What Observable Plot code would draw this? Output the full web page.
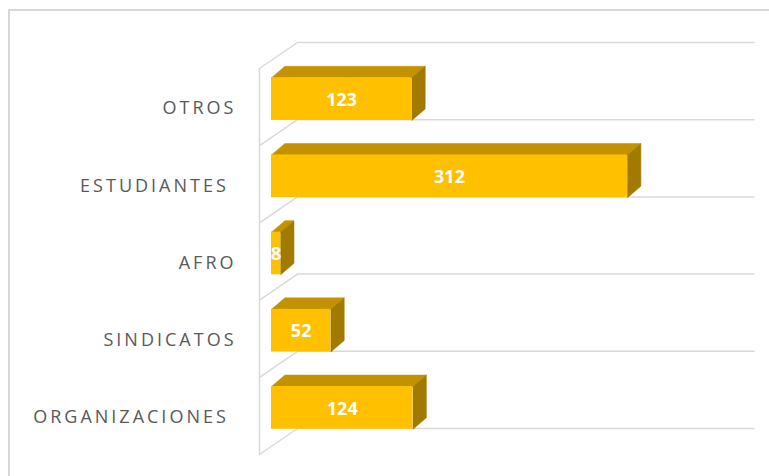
<!DOCTYPE html>
<html>
<head>
<meta charset="utf-8">
<script src="https://cdn.jsdelivr.net/npm/d3@7"></script>
<script src="https://cdn.jsdelivr.net/npm/@observablehq/plot@0.6"></script>
<style>
  html, body { margin: 0; padding: 0; background: #fff; }
  #chart { width: 769px; height: 476px; overflow: hidden; }
</style>
</head>
<body>
<div id="chart"></div>
<script>
// ---- data (bottom row first) ----
const categories = ["ORGANIZACIONES", "SINDICATOS", "AFRO", "ESTUDIANTES", "OTROS"];
const tickLabels = ["ORGANIZACIONES\u00a0", "SINDICATOS", "AFRO", "ESTUDIANTES\u00a0", "OTROS"];
const values = [124, 52, 8, 312, 123];
const xMax = 400;

// ---- 3D projection constants (data units) ----
const PX = 1.141;           // px per value unit
const ROW = 77.2;           // px per category row
const WX = 38 / PX, WY = 26 / ROW;       // wall depth
const FX = 12 / PX, FY = 8 / ROW;        // bar front-face depth offset
const BX = 13.4 / PX, BY = 11.5 / ROW;   // bar depth
const H = 0.2765;                        // half bar height (rows)

const bars = categories.map((c, i) => ({c, i, v: values[i], label: tickLabels[i]}));

const fronts = bars.map(b => ({
  x1: FX, x2: FX + b.v,
  y1: b.i + 0.5 + FY - H, y2: b.i + 0.5 + FY + H, c: b.c
}));
const tops = bars.flatMap(b => {
  const t = b.i + 0.5 + FY + H;
  return [[FX, t], [FX + b.v, t], [FX + b.v + BX, t + BY], [FX + BX, t + BY], [FX, t]]
    .map(([x, y]) => ({x, y, c: b.c}));
});
const sides = bars.flatMap(b => {
  const t = b.i + 0.5 + FY + H, d = b.i + 0.5 + FY - H;
  return [[FX + b.v, t], [FX + b.v + BX, t + BY], [FX + b.v + BX, d + BY], [FX + b.v, d], [FX + b.v, t]]
    .map(([x, y]) => ({x, y, c: b.c}));
});
const grid = d3.range(0, categories.length + 1).flatMap(k =>
  [[0, k], [WX, k + WY], [xMax + WX, k + WY]].map(([x, y]) => ({x, y, k}))
);
const wall = [{x: 0, y: 0}, {x: 0, y: categories.length}];

const chart = Plot.plot({
  width: 769,
  height: 476,
  marginLeft: 8.5,
  marginTop: 9.5,
  marginRight: -10,
  marginBottom: -10,
  x: {domain: [0, xMax], range: [259, 259 + xMax * PX], axis: null},
  y: {domain: [0, categories.length], range: [454, 68], axis: null},
  style: {background: "#fff", overflow: "visible"},
  marks: [
    Plot.frame({stroke: "#d9d9d9", strokeWidth: 2}),
    Plot.line(grid, {x: "x", y: "y", z: "k", stroke: "#d9d9d9", strokeWidth: 1.5}),
    Plot.line(wall, {x: "x", y: "y", stroke: "#d9d9d9", strokeWidth: 1.5}),
    Plot.line(tops, {x: "x", y: "y", z: "c", fill: "#c29200", stroke: "#c29200", strokeWidth: 0.5}),
    Plot.line(sides, {x: "x", y: "y", z: "c", fill: "#a37a00", stroke: "#a37a00", strokeWidth: 0.5}),
    Plot.rect(fronts, {x1: "x1", x2: "x2", y1: "y1", y2: "y2", fill: "#ffc000"}),
    Plot.text(bars, {
      x: b => FX + b.v / 2, y: b => b.i + 0.5 + FY, text: b => String(b.v), dy: 1,
      fill: "#ffffff", fontSize: 18, fontWeight: "bold", fontFamily: "Open Sans"
    }),
    Plot.text(bars, {
      x: 0, y: b => b.i + 0.5, text: "label", dx: -23, dy: 1.5,
      textAnchor: "end", fill: "#595959", fontSize: 18, fontFamily: "Open Sans"
    })
  ]
});
const textGroups = chart.querySelectorAll('g[aria-label="text"]');
const catGroup = textGroups[textGroups.length - 1];
catGroup.style.letterSpacing = "3px";
document.getElementById("chart").appendChild(chart);
</script>
</body>
</html>
